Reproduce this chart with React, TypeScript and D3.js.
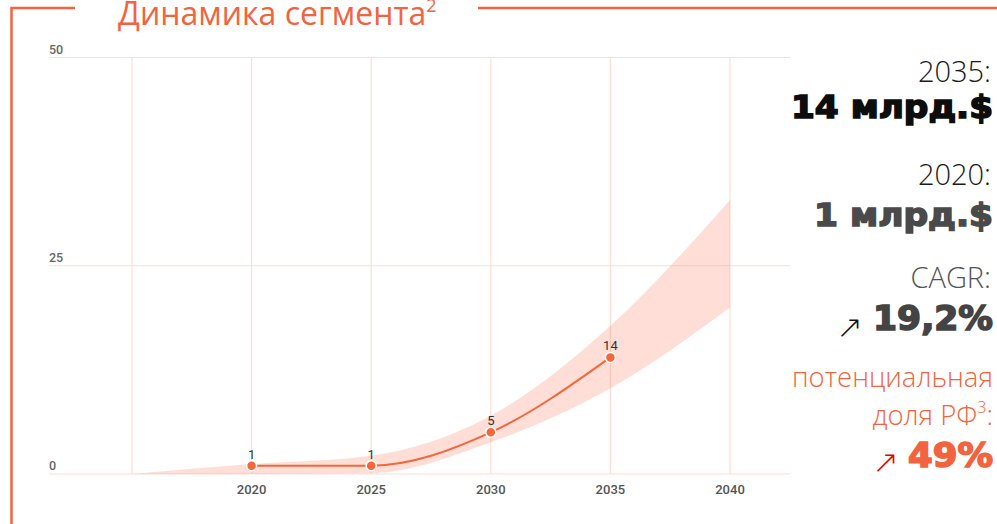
import React from "react";
import * as d3 from "d3";

const gridYears = [2015, 2020, 2025, 2030, 2035, 2040];
const labelYears = [2020, 2025, 2030, 2035, 2040];
const yTicks = [0, 25, 50];

const pointYears = [2020, 2025, 2030, 2035];
const pointValues = [1, 1, 5, 14];

const bandYears = [2015, 2020, 2025, 2030, 2035, 2040];
const bandLow = [0, 0, 0.1, 3.8, 10.3, 20.0];
const bandHigh = [0, 1.2, 2.2, 7.0, 17.8, 32.9];

const W = 997;
const H = 524;
const ORANGE = "#F26440";
const LINE = "#F5673B";

export default function App() {
  const x = d3.scaleLinear().domain([2015, 2040]).range([132, 730]);
  const y = d3.scaleLinear().domain([0, 50]).range([474, 57.5]);
  const gridLeft = 49;
  const gridRight = 790;

  const bandData = bandYears.map((yr, i) => ({ yr, lo: bandLow[i], hi: bandHigh[i] }));
  const area = d3
    .area<{ yr: number; lo: number; hi: number }>()
    .x((d) => x(d.yr))
    .y0((d) => y(d.lo))
    .y1((d) => y(d.hi))
    .curve(d3.curveMonotoneX);

  const pts = pointYears.map((yr, i) => ({ yr, v: pointValues[i] }));
  const line = d3
    .line<{ yr: number; v: number }>()
    .x((d) => x(d.yr))
    .y((d) => y(d.v))
    .curve(d3.curveMonotoneX);

  const light = "'Open Sans', sans-serif";
  const heavy = "'DejaVu Sans', sans-serif";

  return (
    <div style={{ position: "fixed", left: 0, top: 0, width: W, height: H, background: "#fff" }}>
      <svg width={W} height={H} style={{ display: "block" }}>
        <rect width={W} height={H} fill="#fff" />
        {/* frame */}
        <path d={`M11.5,${H} V8 H75`} fill="none" stroke={ORANGE} strokeWidth={2.5} />
        <path d={`M478,8 H${W}`} fill="none" stroke={ORANGE} strokeWidth={2.5} />
        <text x={118} y={25} fontFamily={light} fontSize={32} fill={ORANGE}>
          Динамика сегмента
          <tspan fontSize={18} dy={-13}>2</tspan>
        </text>

        {/* grid */}
        {yTicks.map((t) => (
          <line key={"h" + t} x1={gridLeft} x2={gridRight} y1={y(t)} y2={y(t)} stroke="#FDDED4" strokeWidth={1.2} />
        ))}
        {gridYears.map((yr) => (
          <line key={"v" + yr} x1={x(yr)} x2={x(yr)} y1={y(0)} y2={y(50)} stroke="#FDDED4" strokeWidth={1.2} />
        ))}
        {yTicks.map((t) => (
          <text key={"yl" + t} x={gridLeft} y={y(t) - 4} fontFamily="Roboto, sans-serif" fontWeight={500} fontSize={12.5} fill="#666">
            {t}
          </text>
        ))}
        {labelYears.map((yr) => (
          <text key={"xl" + yr} x={x(yr)} y={493.5} textAnchor="middle" fontFamily="Roboto, sans-serif" fontWeight={500} fontSize={13} fill="#555">
            {yr}
          </text>
        ))}

        {/* band */}
        <path d={area(bandData) || ""} fill="#FB8A6A" fillOpacity={0.28} />

        {/* line */}
        <path d={line(pts) || ""} fill="none" stroke={LINE} strokeWidth={2} />
        {pts.map((p) => (
          <g key={"p" + p.yr}>
            <circle cx={x(p.yr)} cy={y(p.v)} r={5} fill={LINE} stroke="#fff" strokeWidth={1.5} />
            <text x={x(p.yr)} y={y(p.v) - 7} textAnchor="middle" fontFamily="Roboto, sans-serif" fontSize={13} fill="#333">
              {p.v}
            </text>
          </g>
        ))}

        {/* right panel */}
        <g textAnchor="end">
          <text x={991} y={82} fontFamily={light} fontWeight={300} fontSize={29} fill="#1a1a1a">2035:</text>
          <text x={993} y={118} fontFamily={heavy} fontWeight={700} fontSize={32} fill="#0d0d0d" stroke="#0d0d0d" strokeWidth={1.6} textLength={202} lengthAdjust="spacingAndGlyphs">
            14 млрд.$
          </text>
          <text x={991} y={185} fontFamily={light} fontWeight={300} fontSize={29} fill="#1a1a1a">2020:</text>
          <text x={993} y={226} fontFamily={heavy} fontWeight={700} fontSize={32} fill="#4a4a4a" stroke="#4a4a4a" strokeWidth={1.6} textLength={179} lengthAdjust="spacingAndGlyphs">
            1 млрд.$
          </text>
          <text x={991} y={288} fontFamily={light} fontWeight={300} fontSize={29} fill="#555">CAGR:</text>
          <text x={993} y={330} fontFamily={heavy} fontWeight={700} fontSize={33} fill="#444" stroke="#444" strokeWidth={1.6} textLength={120} lengthAdjust="spacingAndGlyphs">
            19,2%
          </text>
          <text x={863} y={338} fontFamily={heavy} fontWeight={200} fontSize={32} fill="#111">↗</text>
          <text x={993} y={387} fontFamily={light} fontWeight={300} fontSize={27.5} fill={ORANGE}>потенциальная</text>
          <text x={993} y={425} fontFamily={light} fontWeight={300} fontSize={27.5} fill={ORANGE}>
            доля РФ<tspan fontSize={16} dy={-12}>3</tspan><tspan dy={12}>:</tspan>
          </text>
          <text x={993} y={467} fontFamily={heavy} fontWeight={700} fontSize={33} fill={ORANGE} stroke={ORANGE} strokeWidth={1.6} textLength={85} lengthAdjust="spacingAndGlyphs">
            49%
          </text>
          <text x={899} y={473} fontFamily={heavy} fontWeight={200} fontSize={32} fill="#E00000">↗</text>
        </g>
      </svg>
    </div>
  );
}
